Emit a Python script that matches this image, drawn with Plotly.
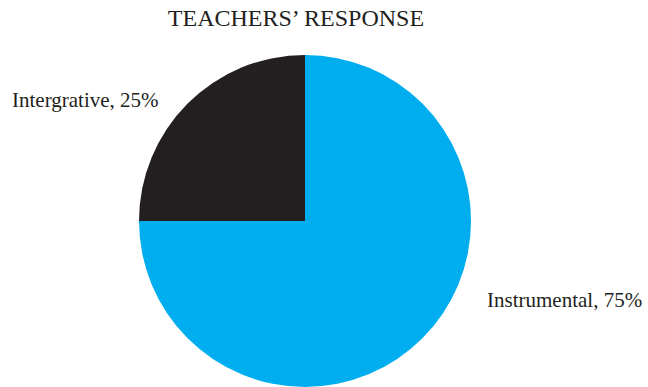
import plotly.graph_objects as go

# Teachers' response data
categories = ["Instrumental", "Intergrative"]
percentages = [75, 25]
slice_colors = ["#00AEEF", "#231F20"]

W, H = 648, 387
font_family = "Liberation Serif, Times New Roman, serif"

fig = go.Figure(
    go.Pie(
        labels=categories,
        values=percentages,
        marker=dict(colors=slice_colors, line=dict(width=0)),
        textinfo="none",
        sort=False,
        direction="clockwise",
        rotation=0,
        hoverinfo="label+percent",
        domain=dict(x=[0.2145, 0.7269], y=[0.0, 0.858]),
        showlegend=False,
    )
)

# Category labels placed outside the pie
label_positions = {"Instrumental": (485, 300), "Intergrative": (10, 100)}
for name, pct in zip(categories, percentages):
    px, py = label_positions[name]
    fig.add_annotation(
        text=f"{name}, {pct}%",
        x=px / W, y=1 - py / H,
        xref="paper", yref="paper",
        xanchor="left", yanchor="middle",
        showarrow=False,
        font=dict(family=font_family, size=21, color="#231F20"),
    )

fig.update_layout(
    width=W, height=H,
    margin=dict(l=0, r=0, t=0, b=0),
    paper_bgcolor="white",
    plot_bgcolor="white",
    title=dict(
        text="TEACHERS’ RESPONSE",
        x=296 / W, xanchor="center",
        y=1 - 18 / H, yanchor="middle",
        font=dict(family=font_family, size=24, color="#231F20"),
    ),
)

fig.write_html("out.html")
